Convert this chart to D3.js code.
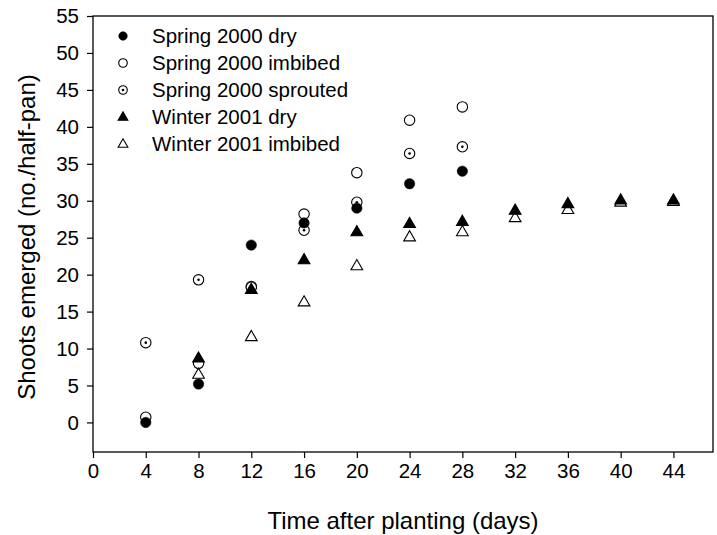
<!DOCTYPE html>
<html>
<head>
<meta charset="utf-8">
<script src="https://cdn.jsdelivr.net/npm/d3@7"></script>
<style>
    body { margin: 0; background: #fff; }
    text { font-family: "Liberation Sans", Arial, sans-serif; fill: #000; }
</style>
</head>
<body>
<div id="chart"></div>
<script>

const chartWidth = 717;
const chartHeight = 535;

// data
const days = [4, 8, 12, 16, 20, 24, 28, 32, 36, 40, 44];

const spring2000Dry = [0, 5.2, 24, 27, 29, 32.3, 34];
const spring2000Imbibed = [0.7, 8, 18.4, 28.2, 33.8, 40.9, 42.7];
const spring2000Sprouted = [10.8, 19.3, 18.3, 26, 29.8, 36.4, 37.3];
const winter2001Dry = [8.7, 18, 22, 25.8, 26.9, 27.2, 28.7, 29.6, 30.1, 30.1];
const winter2001Imbibed = [6.5, 11.6, 16.3, 21.2, 25.1, 25.8, 27.7, 28.8, 29.8, 29.9];

const winterDays = days.slice(1);

const xTicks = [0, 4, 8, 12, 16, 20, 24, 28, 32, 36, 40, 44];
const yTicks = [0, 5, 10, 15, 20, 25, 30, 35, 40, 45, 50, 55];

// legend order, draw order handled below
const series = [
    { name: "Spring 2000 dry", x: days, y: spring2000Dry, shape: "circle", fill: "#000" },
    { name: "Spring 2000 imbibed", x: days, y: spring2000Imbibed, shape: "circle", fill: "#fff" },
    { name: "Spring 2000 sprouted", x: days, y: spring2000Sprouted, shape: "dot", fill: "#fff" },
    { name: "Winter 2001 dry", x: winterDays, y: winter2001Dry, shape: "triangle", fill: "#000" },
    { name: "Winter 2001 imbibed", x: winterDays, y: winter2001Imbibed, shape: "triangle", fill: "#fff" }
];
const drawOrder = [1, 2, 0, 4, 3];

const plotLeft = 93, plotRight = 713, plotTop = 16, plotBottom = 452;

const xScale = d3.scaleLinear().domain([0, 47]).range([plotLeft, plotRight]);
const yScale = d3.scaleLinear().domain([-4, 55]).range([plotBottom, plotTop]);

const svg = d3.select("#chart")
    .append("svg")
    .attr("width", chartWidth)
    .attr("height", chartHeight);

// frame
svg.append("rect")
    .attr("x", plotLeft)
    .attr("y", plotTop)
    .attr("width", plotRight - plotLeft)
    .attr("height", plotBottom - plotTop)
    .attr("fill", "none")
    .attr("stroke", "#000")
    .attr("stroke-width", 1.3);

const xAxis = d3.axisBottom(xScale)
    .tickValues(xTicks)
    .tickSize(6)
    .tickPadding(5)
    .tickSizeOuter(0);

const yAxis = d3.axisLeft(yScale)
    .tickValues(yTicks)
    .tickSize(6)
    .tickPadding(8)
    .tickSizeOuter(0);

const gx = svg.append("g")
    .attr("transform", "translate(0," + plotBottom + ")")
    .call(xAxis);

const gy = svg.append("g")
    .attr("transform", "translate(" + plotLeft + ",0)")
    .call(yAxis);

[gx, gy].forEach(g => {
    g.select(".domain").remove();
    g.selectAll("line").attr("stroke", "#000").attr("stroke-width", 1.2);
    g.selectAll("text").attr("font-size", 20.5).style("font-family", "'Liberation Sans', Arial, sans-serif").attr("fill", "#000");
});

// titles
svg.append("text")
    .attr("x", (plotLeft + plotRight) / 2)
    .attr("y", 529)
    .attr("text-anchor", "middle")
    .attr("font-size", 24)
    .text("Time after planting (days)");

svg.append("text")
    .attr("transform", "translate(35," + 237 + ") rotate(-90)")
    .attr("text-anchor", "middle")
    .attr("font-size", 24)
    .text("Shoots emerged (no./half-pan)");

// markers
function drawMarker(g, shape, fill, r) {
    if (shape === "triangle") {
        g.append("path")
            .attr("d", d3.symbol(d3.symbolTriangle, r * r * 2.2)())
            .attr("transform", "translate(0," + (r * 0.1) + ")")
            .attr("fill", fill)
            .attr("stroke", "#000")
            .attr("stroke-width", 1.1);
    } else {
        g.append("circle")
            .attr("r", r)
            .attr("fill", fill)
            .attr("stroke", "#000")
            .attr("stroke-width", shape === "circle" && fill === "#000" ? 0.5 : 1.1);
        if (shape === "dot") {
            g.append("circle")
                .attr("r", 1.3)
                .attr("fill", "#000");
        }
    }
}

drawOrder.forEach(i => {
    const s = series[i];
    const pts = s.y.map((v, j) => [s.x[j], v]);
    svg.append("g")
        .selectAll("g")
        .data(pts)
        .enter()
        .append("g")
        .attr("transform", d => "translate(" + xScale(d[0]) + "," + yScale(d[1]) + ")")
        .each(function () { drawMarker(d3.select(this), s.shape, s.fill, 5.2); });
});

// legend
const legend = svg.append("g")
    .selectAll("g")
    .data(series)
    .enter()
    .append("g")
    .attr("transform", (d, i) => "translate(123," + (36 + i * 27) + ")");

legend.each(function (d) { drawMarker(d3.select(this), d.shape, d.fill, 4.3); });

legend.append("text")
    .attr("x", 29)
    .attr("y", 7)
    .attr("font-size", 20.5)
    .text(d => d.name);

</script>
</body>
</html>
